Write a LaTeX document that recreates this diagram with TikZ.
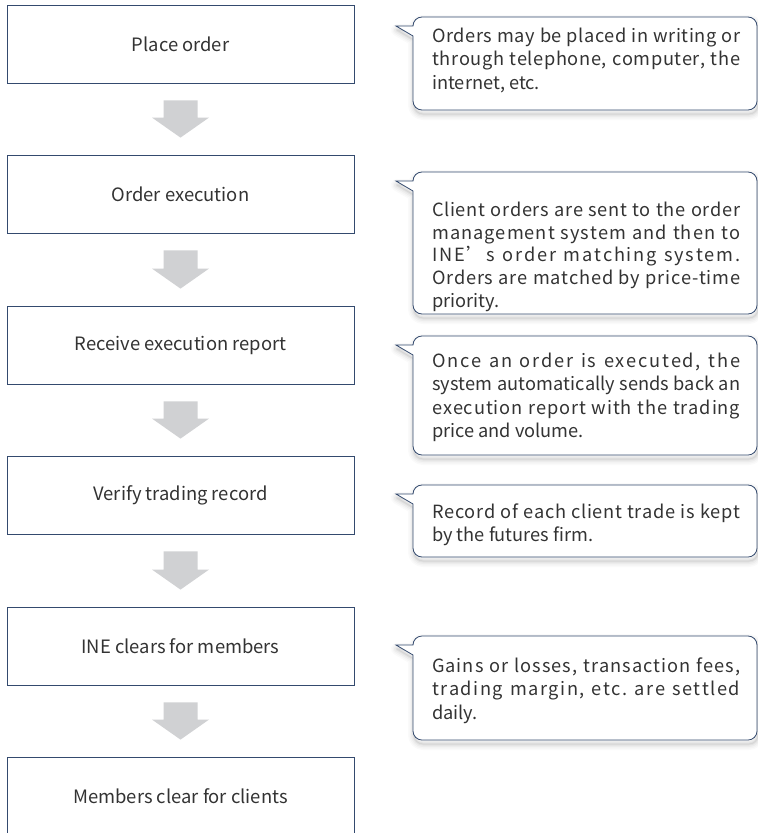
\documentclass[tikz,border=0pt]{standalone}
\usepackage{fontspec}
\setmainfont{Noto Sans CJK SC}
\usetikzlibrary{calc}
\definecolor{edge}{RGB}{52,74,110}
\definecolor{arrowgray}{RGB}{208,209,211}
\definecolor{txt}{RGB}{51,51,51}
\pgfdeclarelayer{bg}
\pgfsetlayers{bg,main}
\def\spreadaux#1{\ifx#1\relax\else\hskip 0pt plus 1fil minus 0.3pt#1\expandafter\spreadaux\fi}
\def\spreadline#1#2\relax{\hbox to 308pt{#1\spreadaux#2\relax}}
\newcommand\sline[1]{\spreadline#1\relax}
\newcommand\cpath[4]{({#1-17},{#2+9}) -- (#1,{#2+9}) .. controls (#1,{#2+4}) and ({#1+4},#2) .. ({#1+9},#2) -- ({#3-9},#2) .. controls ({#3-4},#2) and (#3,{#2+4}) .. (#3,{#2+9}) -- (#3,{#4-9}) .. controls (#3,{#4-4}) and ({#3-4},#4) .. ({#3-9},#4) -- ({#1+9},#4) .. controls ({#1+4},#4) and (#1,{#4-4}) .. (#1,{#4-9}) -- (#1,{#2+19}) -- cycle}
\newcommand\callout[4]{%
  \foreach \w/\o in {12/0.02,9/0.025,6/0.03,3/0.04,1/0.05}{\draw[black,opacity=\o,line width=\w pt,line join=round,shift={(1pt,-4pt)}] \cpath{#1}{#2}{#3}{#4};}
  \draw[edge,line width=0.8pt,fill=white,line join=miter] \cpath{#1}{#2}{#3}{#4};}
\tikzset{
  stepbox/.style={rectangle,draw=edge,line width=0.8pt,fill=white,minimum width=347pt,minimum height=78.5pt,inner sep=0pt,text=txt,font=\fontsize{18.4}{23}\selectfont},
  ctext/.style={anchor=north west,inner sep=0pt,align=left,text=txt,font=\fontsize{18.2}{23.5}\selectfont},
}
\begin{document}
\begin{tikzpicture}[x=1pt,y=-1pt]
\useasboundingbox[fill=white] (0,0) rectangle (758,833);
\node[stepbox] (b1) at (180.5,44.25) {Place order};
\node[stepbox] (b2) at (180.5,194.25) {Order execution};
\node[stepbox] (b3) at (180.5,345.25) {Receive execution report};
\node[stepbox] (b4) at (180.5,495.25) {Verify trading record};
\node[stepbox] (b5) at (180.5,646.25) {INE clears for members};
\node[stepbox] (b6) at (180.5,796.25) {Members clear for clients};
\begin{pgfonlayer}{bg}
\foreach \n in {b1,b2,b3,b4,b5,b6}{
  \foreach \w/\o in {12/0.02,9/0.025,6/0.03,3/0.04,1/0.05}{
    \draw[black,opacity=\o,line width=\w pt] ([shift={(1pt,-4pt)}]\n.north west) rectangle ([shift={(1pt,-4pt)}]\n.south east);}}
\end{pgfonlayer}
\foreach \a/\b in {b1/b2,b2/b3,b3/b4,b4/b5,b5/b6}{
  \fill[arrowgray] ($(\a.south)+(-17,16.5)$) -- ($(\a.south)+(17,16.5)$) -- ($(\b.north)+(17,-37)$) -- ($(\b.north)+(28.5,-37)$) -- ($(\b.north)+(0,-17)$) -- ($(\b.north)+(-28.5,-37)$) -- ($(\b.north)+(-17,-37)$) -- cycle;}
\callout{413}{17}{757}{110}
\node[ctext] (c1) at (432,27.5) {\sline{Orders~may~be~placed~in~writing~or}\\\sline{through~telephone,~computer,~the}\\internet, etc.};
\callout{413}{172}{757}{314}
\node[ctext,font=\fontsize{18.2}{22.6}\selectfont] (c2) at (432,202) {\sline{Client~orders~are~sent~to~the~order}\\\sline{management~system~and~then~to}\\\sline{INE’s~order~matching~system.}\\\sline{Orders~are~matched~by~price-time}\\priority.};
\callout{413}{336}{757}{455}
\node[ctext] (c3) at (432,352.5) {\sline{Once~an~order~is~executed,~the}\\\sline{system~automatically~sends~back~an}\\\sline{execution~report~with~the~trading}\\price and volume.};
\callout{413}{485}{757}{557}
\node[ctext] (c4) at (432,503.5) {\sline{Record~of~each~client~trade~is~kept}\\by the futures firm.};
\callout{413}{636}{757}{740}
\node[ctext] (c5) at (432,657.5) {\sline{Gains~or~losses,~transaction~fees,}\\\sline{trading~margin,~etc.~are~settled}\\daily.};
\end{tikzpicture}
\end{document}
